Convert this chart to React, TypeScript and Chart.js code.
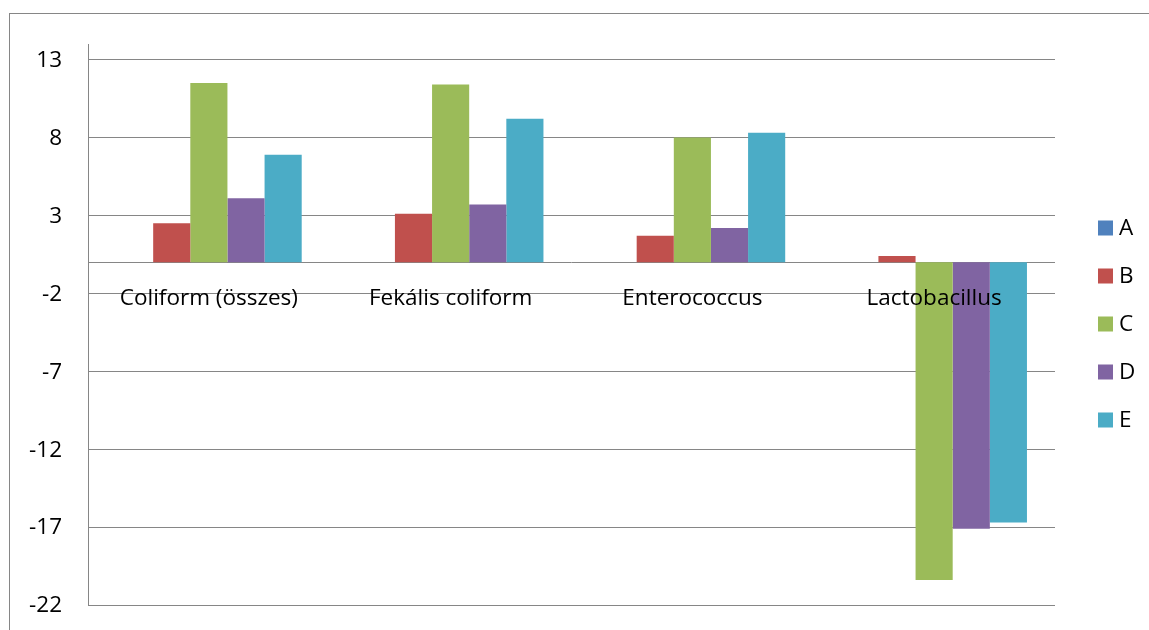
import React, { useEffect, useRef } from "react";
import { Chart, registerables } from "chart.js";

Chart.register(...registerables);

const categories = ["Coliform (összes)", "Fekális coliform", "Enterococcus", "Lactobacillus"];
const seriesNames = ["A", "B", "C", "D", "E"];
const seriesA = [0, 0, 0, 0];
const seriesB = [2.5, 3.1, 1.7, 0.4];
const seriesC = [11.5, 11.4, 8.0, -20.4];
const seriesD = [4.1, 3.7, 2.2, -17.1];
const seriesE = [6.9, 9.2, 8.3, -16.7];
const colors = ["#4F81BD", "#C0504D", "#9BBB59", "#8064A2", "#4BACC6"];
const yTicks = [-22, -17, -12, -7, -2, 3, 8, 13];

const FONT = "'Open Sans', sans-serif";
const FS = 22.5;
const GRID = "#868686";

const overlayPlugin = {
  id: "overlay",
  beforeDatasetsDraw(chart: any) {
    const { ctx, chartArea, scales } = chart;
    const y0 = scales.y.getPixelForValue(0);
    ctx.save();
    ctx.strokeStyle = GRID;
    ctx.lineWidth = 1;
    ctx.beginPath();
    ctx.moveTo(chartArea.left, Math.round(y0) + 0.5);
    ctx.lineTo(chartArea.right, Math.round(y0) + 0.5);
    ctx.stroke();
    ctx.restore();
  },
  afterDatasetsDraw(chart: any) {
    const { ctx, scales } = chart;
    const y0 = scales.y.getPixelForValue(0);
    ctx.save();
    ctx.fillStyle = "#000";
    ctx.font = `${FS}px ${FONT}`;
    ctx.textBaseline = "middle";
    // y tick labels
    ctx.textAlign = "right";
    yTicks.forEach((v) => {
      ctx.fillText(String(v), 62, scales.y.getPixelForValue(v) + 1);
    });
    // category labels
    ctx.textAlign = "center";
    categories.forEach((c, i) => {
      ctx.fillText(c, scales.x.getPixelForValue(i), y0 + 36);
    });
    // legend
    const ys = [228, 276, 324, 372, 420];
    seriesNames.forEach((n, i) => {
      ctx.fillStyle = colors[i];
      ctx.fillRect(1098, ys[i] - 7.5, 15, 15);
      ctx.fillStyle = "#000";
      ctx.textAlign = "left";
      ctx.fillText(n, 1119, ys[i] + 1);
    });
    ctx.restore();
  },
};

export default function App() {
  const ref = useRef<HTMLCanvasElement>(null);
  useEffect(() => {
    const all = [seriesA, seriesB, seriesC, seriesD, seriesE];
    const chart = new Chart(ref.current!, {
      type: "bar",
      data: {
        labels: categories,
        datasets: all.map((d, i) => ({
          label: seriesNames[i],
          data: d,
          backgroundColor: colors[i],
          borderWidth: 0,
          barPercentage: 1,
          categoryPercentage: 0.768,
        })),
      },
      options: {
        animation: false,
        responsive: false,
        maintainAspectRatio: false,
        layout: { padding: { left: 0, top: 44, bottom: 25, right: 94 } },
        plugins: { legend: { display: false }, tooltip: { enabled: false } },
        scales: {
          x: { display: false },
          y: {
            min: -22,
            max: 14,
            afterBuildTicks: (s: any) => {
              s.ticks = yTicks.map((v) => ({ value: v }));
            },
            afterFit: (s: any) => {
              s.width = 88;
            },
            grid: { color: GRID, drawTicks: false },
            border: { color: GRID },
            ticks: { display: false },
          },
        },
      },
      plugins: [overlayPlugin],
    });
    return () => chart.destroy();
  }, []);
  return (
    <div style={{ position: "fixed", left: 0, top: 0, width: 1149, height: 630, background: "#fff" }}>
      <div
        style={{
          position: "absolute",
          left: 9,
          top: 13,
          width: 1160,
          height: 640,
          border: `1px solid ${GRID}`,
        }}
      />
      <canvas ref={ref} width={1149} height={630} style={{ position: "absolute", left: 0, top: 0 }} />
    </div>
  );
}
